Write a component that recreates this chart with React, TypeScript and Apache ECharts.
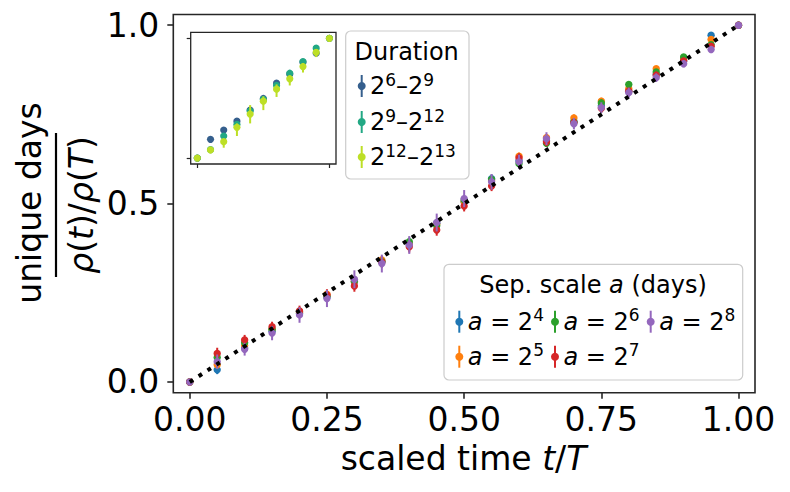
import React, { useEffect, useRef } from "react";
import * as echarts from "echarts";

const FONT = "DejaVu Sans";

// main panel: scaled time t/T
const T_MAIN = [0, 0.05, 0.1, 0.15, 0.2, 0.25, 0.3, 0.35, 0.4, 0.45, 0.5, 0.55, 0.6, 0.65, 0.7, 0.75, 0.8, 0.85, 0.9, 0.95, 1.0];
const X_TICKS = [0, 0.25, 0.5, 0.75, 1.0];
const Y_TICKS = [0, 0.5, 1.0];

const SEP_NAMES = ["4", "5", "6", "7", "8"];
const SEP_COLORS = ["#1f77b4", "#ff7f0e", "#2ca02c", "#d62728", "#9467bd"];

const A4 = [0, 0.034, 0.095, 0.142, 0.192, 0.238, 0.280, 0.338, 0.386, 0.445, 0.505, 0.570, 0.620, 0.677, 0.730, 0.774, 0.815, 0.862, 0.900, 0.972, 1.0];
const A5 = [0, 0.048, 0.102, 0.148, 0.195, 0.246, 0.282, 0.342, 0.388, 0.442, 0.505, 0.565, 0.633, 0.685, 0.740, 0.787, 0.822, 0.878, 0.905, 0.960, 1.0];
const A6 = [0, 0.069, 0.110, 0.148, 0.198, 0.240, 0.283, 0.337, 0.393, 0.438, 0.510, 0.568, 0.612, 0.669, 0.728, 0.782, 0.834, 0.869, 0.911, 0.945, 1.0];
const A7 = [0, 0.080, 0.118, 0.155, 0.199, 0.244, 0.269, 0.336, 0.379, 0.426, 0.493, 0.549, 0.628, 0.673, 0.727, 0.767, 0.815, 0.860, 0.900, 0.941, 1.0];
const A8 = [0, 0.057, 0.092, 0.137, 0.188, 0.234, 0.288, 0.332, 0.384, 0.447, 0.514, 0.561, 0.617, 0.682, 0.724, 0.769, 0.811, 0.853, 0.892, 0.932, 1.0];

const E4 = [0, 0.012, 0.010, 0.010, 0.012, 0.012, 0.012, 0.012, 0.012, 0.012, 0.012, 0.012, 0.010, 0.010, 0.010, 0.010, 0.010, 0.008, 0.008, 0.006, 0];
const E5 = [0, 0.010, 0.010, 0.010, 0.010, 0.012, 0.012, 0.012, 0.012, 0.012, 0.012, 0.010, 0.010, 0.010, 0.010, 0.010, 0.008, 0.008, 0.008, 0.006, 0];
const E6 = [0, 0.010, 0.010, 0.010, 0.010, 0.012, 0.012, 0.012, 0.012, 0.012, 0.012, 0.010, 0.010, 0.010, 0.010, 0.010, 0.008, 0.008, 0.008, 0.006, 0];
const E7 = [0, 0.016, 0.014, 0.014, 0.015, 0.016, 0.016, 0.016, 0.016, 0.016, 0.015, 0.014, 0.013, 0.012, 0.012, 0.012, 0.010, 0.010, 0.009, 0.008, 0];
const E8 = [0, 0.020, 0.018, 0.020, 0.022, 0.024, 0.025, 0.025, 0.025, 0.025, 0.024, 0.022, 0.020, 0.018, 0.016, 0.015, 0.014, 0.012, 0.010, 0.010, 0];

const SEP_VALUES = [A4, A5, A6, A7, A8];
const SEP_ERRS = [E4, E5, E6, E7, E8];

// inset: durations
const T_INSET = [0, 0.1, 0.2, 0.3, 0.4, 0.5, 0.6, 0.7, 0.8, 0.9, 1.0];
const DUR_COLORS = ["#355f8d", "#22a884", "#bddf26"];
const D1 = [0, 0.156, 0.233, 0.308, 0.400, 0.497, 0.625, 0.700, 0.800, 0.875, 1.0];
const D2 = [0, 0.070, 0.183, 0.280, 0.392, 0.489, 0.606, 0.708, 0.806, 0.917, 1.0];
const D3 = [0, 0.067, 0.136, 0.256, 0.367, 0.475, 0.575, 0.661, 0.764, 0.883, 1.0];
const D1_LO = [0, 0.010, 0.012, 0.012, 0.015, 0.015, 0.012, 0.012, 0.010, 0.010, 0];
const D1_HI = [0, 0.010, 0.012, 0.012, 0.015, 0.015, 0.012, 0.012, 0.010, 0.010, 0];
const D2_LO = [0, 0.015, 0.020, 0.020, 0.020, 0.020, 0.018, 0.016, 0.015, 0.012, 0];
const D2_HI = [0, 0.015, 0.020, 0.020, 0.020, 0.020, 0.018, 0.016, 0.015, 0.012, 0];
const D3_LO = [0, 0.020, 0.050, 0.072, 0.078, 0.075, 0.065, 0.055, 0.050, 0.040, 0];
const D3_HI = [0, 0.010, 0.020, 0.033, 0.075, 0.040, 0.040, 0.030, 0.030, 0.020, 0];
const DUR_VALUES = [D1, D2, D3];
const DUR_LO = [D1_LO, D2_LO, D3_LO];
const DUR_HI = [D1_HI, D2_HI, D3_HI];
const DUR_LABELS = [["6", "9"], ["9", "12"], ["12", "13"]];

function errSeries(name: string, xs: number[], ys: number[], lo: number[], hi: number[], color: string, idx: number, r: number, z: number) {
  return {
    type: "custom",
    name,
    xAxisIndex: idx,
    yAxisIndex: idx,
    z,
    clip: false,
    data: xs.map((x, i) => [x, ys[i], lo[i], hi[i]]),
    encode: { x: 0, y: 1 },
    renderItem: (params: any, api: any) => {
      const x = api.value(0);
      const y = api.value(1);
      const p = api.coord([x, y]);
      const pl = api.coord([x, y - api.value(2)]);
      const ph = api.coord([x, y + api.value(3)]);
      return {
        type: "group",
        children: [
          { type: "line", shape: { x1: p[0], y1: pl[1], x2: p[0], y2: ph[1] }, style: { stroke: color, lineWidth: 2 } },
          { type: "circle", shape: { cx: p[0], cy: p[1], r }, style: { fill: color } },
        ],
      };
    },
  };
}

const richBase = (fs: number) => ({
  n: { fontSize: fs, fontFamily: FONT, fill: "#000", lineHeight: fs + 6 },
  i: { fontSize: fs, fontFamily: FONT, fontStyle: "italic", fill: "#000", lineHeight: fs + 6 },
  s: { fontSize: Math.round(fs * 0.7), fontFamily: FONT, fill: "#000", lineHeight: Math.round(fs * 0.7), verticalAlign: "top" },
});

function handle(x: number, y: number, color: string) {
  return [
    { type: "line", shape: { x1: x, y1: y - 11, x2: x, y2: y + 11 }, style: { stroke: color, lineWidth: 2 }, z: 101 },
    { type: "circle", shape: { cx: x, cy: y, r: 4 }, style: { fill: color }, z: 101 },
  ];
}

export default function App() {
  const ref = useRef<HTMLDivElement>(null);
  useEffect(() => {
    const chart = echarts.init(ref.current!, null, { renderer: "svg" });
    const series: any[] = [];
    SEP_VALUES.forEach((vals, k) => {
      series.push(errSeries("a=2^" + SEP_NAMES[k], T_MAIN, vals, SEP_ERRS[k], SEP_ERRS[k], SEP_COLORS[k], 0, 3.7, 2 + k));
    });
    series.push({
      type: "line",
      xAxisIndex: 0,
      yAxisIndex: 0,
      data: [[0, 0], [1, 1]],
      symbol: "none",
      z: 10,
      lineStyle: { color: "#000", width: 4, type: [4, 6.6], cap: "butt" },
    });
    DUR_VALUES.forEach((vals, k) => {
      series.push(errSeries("dur" + k, T_INSET, vals, DUR_LO[k], DUR_HI[k], DUR_COLORS[k], 1, 3.6, 20 + k));
    });

    const rb = richBase(24);
    const graphic: any[] = [];
    // y label
    graphic.push({
      type: "text", x: 29, y: 203, rotation: Math.PI / 2, z: 100,
      style: { text: "unique days", fontSize: 33, fontFamily: FONT, fill: "#000", align: "center", verticalAlign: "middle" },
    });
    graphic.push({
      type: "text", x: 81, y: 205, rotation: Math.PI / 2, z: 100,
      style: {
        text: "{i|ρ}{n|(}{i|t}{n|)/}{i|ρ}{n|(}{i|T}{n|)}",
        align: "center", verticalAlign: "middle",
        rich: {
          n: { fontSize: 33, fontFamily: FONT, fill: "#000" },
          i: { fontSize: 33, fontFamily: FONT, fontStyle: "italic", fill: "#000" },
        },
      },
    });
    graphic.push({ type: "line", z: 100, shape: { x1: 56, y1: 133, x2: 56, y2: 277 }, style: { stroke: "#000", lineWidth: 2.2 } });
    // x label
    graphic.push({
      type: "text", x: 463.5, y: 458, z: 100,
      style: {
        text: "{n|scaled time }{i|t}{n|/}{i|T}",
        align: "center", verticalAlign: "middle",
        rich: {
          n: { fontSize: 33, fontFamily: FONT, fill: "#000" },
          i: { fontSize: 33, fontFamily: FONT, fontStyle: "italic", fill: "#000" },
        },
      },
    });
    // Duration legend
    graphic.push({ type: "rect", z: 99, shape: { x: 345.7, y: 31, width: 123.3, height: 148, r: 5 }, style: { fill: "rgba(255,255,255,0.8)", stroke: "#cccccc", lineWidth: 1.2 } });
    graphic.push({ type: "text", x: 406.7, y: 52, z: 101, style: { text: "Duration", fontSize: 24, fontFamily: FONT, fill: "#000", align: "center", verticalAlign: "middle" } });
    const durY = [86, 122, 157];
    DUR_LABELS.forEach((lab, k) => {
      graphic.push(...handle(361.7, durY[k], DUR_COLORS[k]));
      graphic.push({
        type: "text", x: 370, y: durY[k], z: 101,
        style: { text: `{n|2}{s|${lab[0]}}{n|–2}{s|${lab[1]}}`, align: "left", verticalAlign: "middle", rich: rb },
      });
    });
    // Sep. scale legend
    graphic.push({ type: "rect", z: 99, shape: { x: 444, y: 264.3, width: 298.7, height: 115.7, r: 5 }, style: { fill: "rgba(255,255,255,0.8)", stroke: "#cccccc", lineWidth: 1.2 } });
    graphic.push({
      type: "text", x: 593, y: 285, z: 101,
      style: { text: "{n|Sep. scale }{i|a}{n| (days)}", align: "center", verticalAlign: "middle", rich: rb },
    });
    const sepPos = [[459.3, 321.7], [459.3, 356.7], [555, 321.7], [555, 356.7], [650.7, 321.7]];
    SEP_NAMES.forEach((nm, k) => {
      const [hx, hy] = sepPos[k];
      graphic.push(...handle(hx, hy, SEP_COLORS[k]));
      graphic.push({
        type: "text", x: hx + 8.5, y: hy, z: 101,
        style: { text: `{i|a}{n| = 2}{s|${nm}}`, align: "left", verticalAlign: "middle", rich: rb },
      });
    });

    const tickStyle = { color: "#262626", width: 1.6 };
    const hiddenLine = { show: false, onZero: false };
    chart.setOption({
      animation: false,
      backgroundColor: "#fff",
      textStyle: { fontFamily: FONT },
      grid: [
        { left: 173.3, top: 14.5, width: 581.7, height: 378.2, show: true, borderColor: "#262626", borderWidth: 1.6, backgroundColor: "transparent", containLabel: false },
        { left: 190.7, top: 32.3, width: 145.3, height: 131.7, show: true, borderColor: "#262626", borderWidth: 1.3, backgroundColor: "#fff", containLabel: false },
      ],
      xAxis: [
        {
          gridIndex: 0, type: "value", min: -0.03, max: 1.03, position: "bottom",
          axisLine: hiddenLine, splitLine: { show: false },
          axisTick: { show: true, inside: false, customValues: X_TICKS, length: 6, lineStyle: tickStyle },
          axisLabel: { customValues: X_TICKS, formatter: (v: number) => v.toFixed(2), fontSize: 33, color: "#000", margin: 10, fontFamily: FONT },
        },
        {
          gridIndex: 1, type: "value", min: -0.05, max: 1.05, position: "bottom",
          axisLine: hiddenLine, splitLine: { show: false },
          axisTick: { show: true, inside: false, customValues: [0, 1], length: 4, lineStyle: { color: "#262626", width: 1.2 } },
          axisLabel: { show: false, customValues: [0, 1] },
        },
      ],
      yAxis: [
        {
          gridIndex: 0, type: "value", min: -0.03, max: 1.03, position: "left",
          axisLine: hiddenLine, splitLine: { show: false },
          axisTick: { show: true, inside: false, customValues: Y_TICKS, length: 6, lineStyle: tickStyle },
          axisLabel: { customValues: Y_TICKS, formatter: (v: number) => v.toFixed(1), fontSize: 33, color: "#000", margin: 14, fontFamily: FONT },
        },
        {
          gridIndex: 1, type: "value", min: -0.05, max: 1.05, position: "left",
          axisLine: hiddenLine, splitLine: { show: false },
          axisTick: { show: true, inside: false, customValues: [0, 1], length: 4, lineStyle: { color: "#262626", width: 1.2 } },
          axisLabel: { show: false, customValues: [0, 1] },
        },
      ],
      series,
      graphic,
    });
    return () => chart.dispose();
  }, []);
  return <div ref={ref} style={{ position: "fixed", left: 0, top: 0, width: 790, height: 492 }} />;
}
